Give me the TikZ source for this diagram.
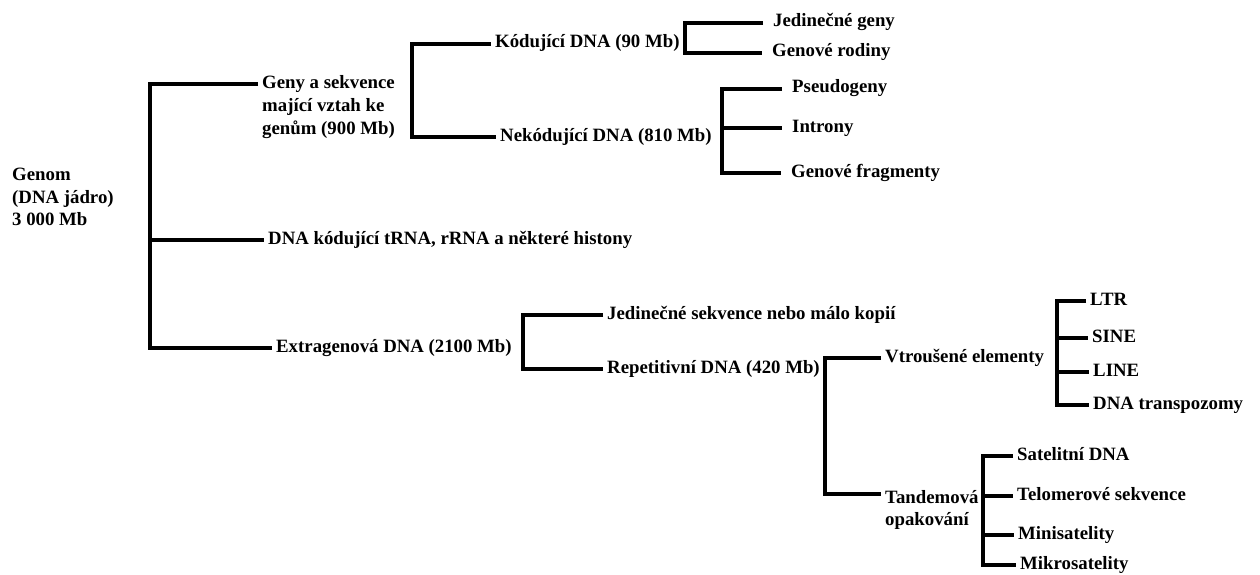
\documentclass[tikz,border=0pt]{standalone}
\usepackage{fontspec}
\setmainfont{Liberation Serif}
\begin{document}
\begin{tikzpicture}[x=1pt,y=-1pt,
  br/.style={line width=3.9pt, line join=miter},
  lbl/.style={anchor=west, inner xsep=4pt, inner ysep=0pt, text height=12pt, text depth=4pt, font=\fontsize{18.8}{22.7}\selectfont\bfseries},
  mlbl/.style={anchor=west, inner xsep=4pt, inner ysep=0pt, align=left, font=\fontsize{18.8}{22.7}\selectfont\bfseries},
  far/.style={inner xsep=10pt}]
\useasboundingbox (0,0) rectangle (1260,575);

% labels
\node[mlbl] (genom) at (8,197) {Genom\\(DNA jádro)\\3 000 Mb};
\node[mlbl] (geny) at (258,107) {Geny a sekvence\\mající vztah ke\\genům (900 Mb)};
\coordinate (genyE) at (258,84);
\node[lbl] (trna) at (264,240) {DNA kódující tRNA, rRNA a některé histony};
\node[lbl] (extra) at (272,348) {Extragenová DNA (2100 Mb)};
\node[lbl] (kod) at (491,44) {Kódující DNA (90 Mb)};
\node[lbl] (nekod) at (496,137) {Nekódující DNA (810 Mb)};
\node[lbl,far] (jg) at (763,23) {Jedinečné geny};
\node[lbl,far] (gr) at (762,53) {Genové rodiny};
\node[lbl,far] (pseudo) at (782,89) {Pseudogeny};
\node[lbl,far] (intr) at (782,128) {Introny};
\node[lbl,far] (frag) at (781,173) {Genové fragmenty};
\node[lbl] (jsek) at (603,315) {Jedinečné sekvence nebo málo kopií};
\node[lbl] (rep) at (603,369) {Repetitivní DNA (420 Mb)};
\node[lbl] (vtr) at (881,358) {Vtroušené elementy};
\node[mlbl] (tand) at (881,510) {Tandemová\\opakování};
\coordinate (tandE) at (881,494);
\node[lbl] (ltr) at (1086,301) {LTR};
\node[lbl] (sine) at (1088,338) {SINE};
\node[lbl] (linee) at (1089,372) {LINE};
\node[lbl] (dnat) at (1089,405) {DNA transpozomy};
\node[lbl] (sat) at (1013,456) {Satelitní DNA};
\node[lbl] (tel) at (1013,496) {Telomerové sekvence};
\node[lbl] (mini) at (1014,535) {Minisatelity};
\node[lbl] (mikro) at (1016,565) {Mikrosatelity};

% bracket spines
\coordinate (b1) at (150,200);
\coordinate (b2) at (412,90);
\coordinate (b3) at (685,38);
\coordinate (b4) at (722,130);
\coordinate (b5) at (523,340);
\coordinate (b6) at (825,420);
\coordinate (b7) at (1057,350);
\coordinate (b8) at (983,510);

% connectors
\draw[br] (genyE) -| (b1) |- (extra.west);
\draw[br] (b1 |- trna.west) -- (trna.west);
\draw[br] (kod.west) -| (b2) |- (nekod.west);
\draw[br] (jg.west) -| (b3) |- (gr.west);
\draw[br] (pseudo.west) -| (b4) |- (frag.west);
\draw[br] (b4 |- intr.west) -- (intr.west);
\draw[br] (jsek.west) -| (b5) |- (rep.west);
\draw[br] (vtr.west) -| (b6) |- (tandE);
\draw[br] (ltr.west) -| (b7) |- (dnat.west);
\draw[br] (b7 |- sine.west) -- (sine.west);
\draw[br] (b7 |- linee.west) -- (linee.west);
\draw[br] (sat.west) -| (b8) |- (mikro.west);
\draw[br] (b8 |- tel.west) -- (tel.west);
\draw[br] (b8 |- mini.west) -- (mini.west);
\end{tikzpicture}
\end{document}
